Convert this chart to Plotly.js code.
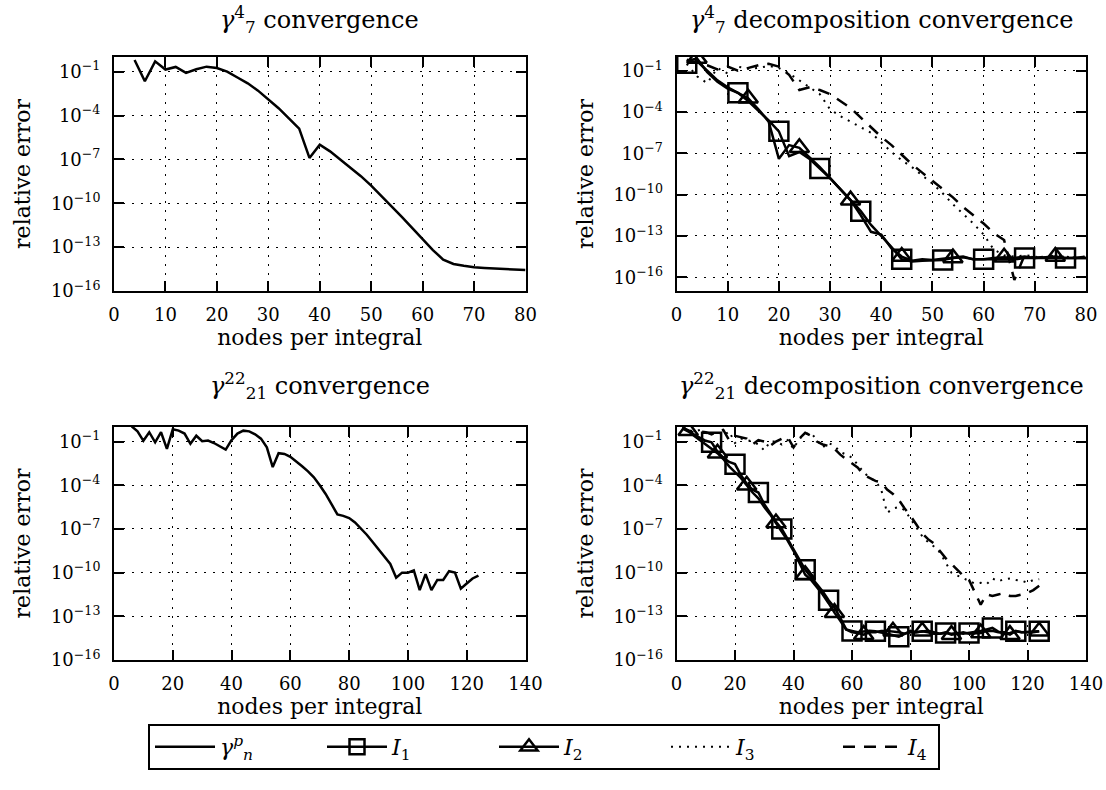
<!DOCTYPE html>
<html>
<head>
<meta charset="utf-8">
<script src="https://cdn.plot.ly/plotly-3.0.1.min.js"></script>
<style>html,body{margin:0;padding:0;background:#fff;}#chart{width:1106px;height:790px;}</style>
</head>
<body>
<div id="chart"></div>
<script>
// ---------------- data (log10 of relative error) ----------------
// top-left: gamma_7^4 convergence
const xTL = [4,6,8,10,12,14,16,18,20,22,24,26,28,30,32,34,36,38,40,42,44,46,48,50,52,54,56,58,60,62,64,66,68,70,72,74,76,78,80];
const gammaTL = [-0.2,-1.66,-0.3,-0.86,-0.68,-1.09,-0.84,-0.66,-0.75,-1.0,-1.4,-1.8,-2.3,-2.9,-3.5,-4.2,-4.9,-6.9,-6.0,-6.45,-7.0,-7.55,-8.15,-8.8,-9.5,-10.2,-10.95,-11.7,-12.45,-13.2,-13.85,-14.15,-14.28,-14.38,-14.42,-14.45,-14.47,-14.52,-14.57];

// top-right: gamma_7^4 decomposition convergence
const xTR = [2,4,6,8,10,12,14,16,18,20,22,24,26,28,30,32,34,36,38,40,42,44,46,48,50,52,54,56,58,60,62,64,66,68,70,72,74,76,78,80];
const I1_TR = [-0.45,-0.3,-1.0,-1.7,-2.2,-2.6,-3.2,-3.9,-4.6,-5.4,-7.2,-6.9,-7.4,-8.1,-8.8,-9.6,-10.4,-11.2,-12.2,-13.0,-13.8,-14.7,-14.85,-14.8,-14.75,-14.75,-14.6,-14.55,-14.7,-14.7,-14.65,-14.7,-14.7,-14.6,-14.6,-14.55,-14.6,-14.6,-14.6,-14.6];
const I2_TR = [-0.3,-0.1,-1.1,-1.8,-2.3,-2.6,-3.0,-3.8,-4.7,-7.4,-6.4,-6.6,-7.3,-8.0,-8.8,-9.6,-10.4,-11.5,-12.7,-12.9,-13.9,-14.5,-14.8,-14.7,-14.75,-14.65,-14.6,-14.5,-14.7,-14.7,-14.6,-14.55,-14.6,-14.5,-14.6,-14.55,-14.5,-14.6,-14.6,-14.6];
const I3_TR = [-0.5,-1.4,-1.9,-0.8,-1.2,-0.7,-0.85,-0.8,-0.65,-0.8,-1.2,-1.7,-2.2,-2.7,-3.8,-4.3,-4.7,-5.1,-5.5,-6.2,-6.9,-7.5,-8.0,-8.6,-9.2,-9.9,-10.7,-11.4,-12.1,-12.9,-14.0,-14.4,-14.5,-14.4,-14.5,-14.6,-14.4,-14.5,-14.6,-14.5];
const I4_TR = [-0.2,-0.4,-0.6,-0.9,-0.7,-1.0,-0.8,-0.6,-0.5,-0.7,-1.3,-2.4,-2.2,-2.4,-2.7,-3.2,-3.7,-4.4,-5.1,-5.8,-6.4,-7.1,-7.8,-8.4,-9.0,-9.6,-10.2,-10.9,-11.5,-12.1,-12.8,-13.3,-16.2,-14.4,-14.6,-14.5,-14.6,-14.5,-14.6,-14.5];
const sqTR  = [2,12,20,28,36,44,52,60,68,76];
const triTR = [4,14,24,34,44,54,64,74];

// bottom-left: gamma_21^22 convergence
const xBL = [6,8,10,12,14,16,18,20,22,24,26,28,30,32,34,36,38,40,42,44,46,48,50,52,54,56,58,60,62,64,66,68,70,72,74,76,78,80,82,84,86,88,90,92,94,96,98,100,102,104,106,108,110,112,114,116,118,120,122,124];
const gammaBL = [0.05,-0.3,-0.95,-0.36,-1.05,-0.36,-1.5,-0.15,-0.25,-0.45,-1.15,-0.6,-0.98,-0.93,-1.1,-1.35,-1.55,-0.9,-0.45,-0.25,-0.3,-0.5,-0.8,-1.4,-2.75,-1.8,-1.85,-2.05,-2.35,-2.7,-3.05,-3.45,-4.0,-4.6,-5.3,-6.0,-6.1,-6.25,-6.55,-6.95,-7.4,-7.9,-8.4,-8.9,-9.4,-10.35,-10.0,-10.0,-9.85,-11.2,-10.1,-11.2,-10.5,-10.5,-9.9,-10.0,-11.1,-10.75,-10.4,-10.2];

// bottom-right: gamma_21^22 decomposition convergence
const xBR = [2,4,6,8,10,12,14,16,18,20,22,24,26,28,30,32,34,36,38,40,42,44,46,48,50,52,54,56,58,60,62,64,66,68,70,72,74,76,78,80,82,84,86,88,90,92,94,96,98,100,102,104,106,108,110,112,114,116,118,120,122,124];
const I1_BR = [-0.1,-0.3,-0.5,-0.7,-0.95,-1.05,-1.7,-2.1,-2.4,-2.55,-3.3,-3.9,-4.3,-4.5,-5.3,-5.9,-6.5,-7.0,-7.7,-8.4,-9.2,-9.8,-10.3,-10.8,-11.3,-11.9,-12.4,-13.1,-13.9,-14.0,-14.1,-14.05,-14.0,-14.03,-14.1,-14.2,-14.3,-14.4,-14.2,-14.1,-14.1,-14.03,-14.1,-14.2,-14.2,-14.15,-14.2,-14.15,-14.2,-14.15,-14.1,-14.0,-13.9,-13.8,-14.05,-14.2,-14.15,-14.03,-14.1,-14.1,-14.1,-14.03];
const I2_BR = [-0.05,-0.25,-0.6,-0.9,-1.2,-1.5,-1.8,-2.2,-2.7,-3.1,-3.5,-4.0,-4.5,-4.9,-5.5,-6.0,-6.6,-7.2,-7.8,-8.5,-9.3,-10.15,-10.5,-11.0,-11.5,-12.1,-12.75,-13.3,-13.9,-14.1,-14.15,-14.26,-14.1,-14.1,-14.0,-14.0,-14.03,-14.1,-14.2,-14.0,-14.1,-14.03,-14.0,-14.1,-14.2,-14.1,-14.26,-14.2,-14.1,-14.2,-14.2,-14.15,-14.0,-14.0,-14.1,-14.1,-14.26,-14.0,-14.1,-14.1,-14.05,-14.03];
const I3_BR = [-0.1,-0.2,-0.3,-0.2,-0.4,-0.5,-0.3,-0.6,-0.3,-1.1,-0.8,-0.9,-1.0,-1.2,-1.6,-1.0,-1.0,-1.2,-0.9,-1.5,-0.8,-0.5,-0.4,-0.9,-1.4,-1.1,-1.3,-1.7,-1.9,-2.1,-2.6,-3.1,-3.5,-3.7,-4.3,-5.9,-5.6,-5.5,-5.7,-6.3,-6.9,-7.5,-7.9,-8.2,-8.6,-9.3,-10.0,-10.2,-10.4,-10.6,-10.75,-10.7,-10.8,-10.4,-10.6,-10.45,-10.4,-10.5,-10.55,-10.7,-10.5,-10.45];
const I4_BR = [-0.05,-0.2,-0.4,-0.3,-0.35,-0.5,-0.3,-0.2,-0.9,-0.6,-0.7,-0.8,-1.2,-0.9,-1.0,-1.3,-1.0,-0.8,-0.7,-1.4,-0.8,-0.4,-0.6,-1.0,-1.2,-1.3,-1.5,-1.9,-2.2,-2.5,-2.8,-3.3,-3.5,-3.7,-3.8,-4.3,-4.6,-5.0,-5.6,-6.1,-6.7,-7.3,-7.7,-8.0,-8.5,-9.0,-9.4,-9.8,-10.2,-10.5,-11.3,-12.2,-11.5,-11.6,-11.5,-11.4,-11.6,-11.6,-11.5,-11.4,-11.2,-10.9];
const sqBR  = [12,20,28,36,44,52,60,68,76,84,92,100,108,116,124];
const triBR = [4,14,24,34,44,54,64,74,84,94,104,114,124];

// labels
const titles = ['<i>γ</i><sup>4</sup><sub>7</sub> convergence',
                '<i>γ</i><sup>4</sup><sub>7</sub> decomposition convergence',
                '<i>γ</i><sup>22</sup><sub>21</sub> convergence',
                '<i>γ</i><sup>22</sup><sub>21</sub> decomposition convergence'];
const legendNames = ['<i>γ</i><sup><i>p</i></sup><sub><i>n</i></sub>', '<i>I</i><sub>1</sub>', '<i>I</i><sub>2</sub>', '<i>I</i><sub>3</sub>', '<i>I</i><sub>4</sub>'];
const yExp = [-16,-13,-10,-7,-4,-1];
const xLabel = 'nodes per integral';
const yLabel = 'relative error';

// ---------------- figure ----------------
const FONT = 'DejaVu Serif, serif';
const W = 1106, H = 790;
const pw = v => 10 ** v;

const styles = {
  gamma: {color: '#000', width: 2.5, dash: 'solid'},
  I1: {color: '#000', width: 2.5, dash: 'solid'},
  I2: {color: '#000', width: 2.5, dash: 'solid'},
  I3: {color: '#000', width: 2, dash: '2px,6px'},
  I4: {color: '#000', width: 2.5, dash: '12px,9px'}
};
const sqMarker = {symbol: 'square-open', size: 19, color: '#000', line: {width: 2.5, color: '#000'}};
const triMarker = {symbol: 'triangle-up-open', size: 17, color: '#000', line: {width: 2.5, color: '#000'}};

function line(x, y, st, xa, ya) {
  return {type: 'scatter', mode: 'lines', x: x, y: y.map(pw), line: st, xaxis: xa, yaxis: ya,
          showlegend: false, hoverinfo: 'skip'};
}
function marks(xs, xAll, yAll, mk, xa, ya) {
  const ys = xs.map(v => pw(yAll[xAll.indexOf(v)]));
  return {type: 'scatter', mode: 'markers', x: xs, y: ys, marker: mk, xaxis: xa, yaxis: ya,
          showlegend: false, hoverinfo: 'skip'};
}

const traces = [
  line(xTL, gammaTL, styles.gamma, 'x', 'y'),
  line(xTR, I3_TR, styles.I3, 'x2', 'y2'),
  line(xTR, I4_TR, styles.I4, 'x2', 'y2'),
  line(xTR, I1_TR, styles.I1, 'x2', 'y2'),
  line(xTR, I2_TR, styles.I2, 'x2', 'y2'),
  marks(sqTR, xTR, I1_TR, sqMarker, 'x2', 'y2'),
  marks(triTR, xTR, I2_TR, triMarker, 'x2', 'y2'),
  line(xBL, gammaBL, styles.gamma, 'x3', 'y3'),
  line(xBR, I3_BR, styles.I3, 'x4', 'y4'),
  line(xBR, I4_BR, styles.I4, 'x4', 'y4'),
  line(xBR, I1_BR, styles.I1, 'x4', 'y4'),
  line(xBR, I2_BR, styles.I2, 'x4', 'y4'),
  marks(sqBR, xBR, I1_BR, sqMarker, 'x4', 'y4'),
  marks(triBR, xBR, I2_BR, triMarker, 'x4', 'y4')
];
// legend-only entries (no data drawn)
const legSt = [
  {mode: 'lines', line: styles.gamma},
  {mode: 'lines+markers', line: styles.I1, marker: Object.assign({}, sqMarker, {size: 15})},
  {mode: 'lines+markers', line: styles.I2, marker: Object.assign({}, triMarker, {size: 15})},
  {mode: 'lines', line: styles.I3},
  {mode: 'lines', line: styles.I4, legendwidth: 25}
];
legendNames.forEach((n, i) => {
  const st = Object.assign({}, legSt[i]);
  traces.push(Object.assign({type: 'scatter', x: [null], y: [null], name: n, xaxis: 'x', yaxis: 'y',
                             showlegend: true, hoverinfo: 'skip'}, st));
});

const dxL = [114/W, 525.5/W], dxR = [676.5/W, 1086/W];
const dyT = [1 - 291/H, 1 - 57/H], dyB = [1 - 660/H, 1 - 427/H];

function xax(dom, max, dt, anchor) {
  return {
    domain: dom, range: [0, max], dtick: dt, tick0: 0, anchor: anchor,
    showline: true, mirror: 'ticks', linecolor: '#000', linewidth: 2,
    ticks: 'inside', ticklen: 10, tickwidth: 2, tickcolor: '#000',
    showgrid: true, gridcolor: '#000', gridwidth: 1, griddash: '2px,7px',
    zeroline: false, ticklabelstandoff: 6,
    tickfont: {family: FONT, size: 18, color: '#000'},
    title: {text: xLabel, font: {family: FONT, size: 22, color: '#000'}, standoff: 6}
  };
}
function yax(dom, lo, anchor) {
  return {
    domain: dom, type: 'log', range: [lo, 0], anchor: anchor,
    tickvals: yExp.map(pw), ticktext: yExp.map(e => '10<sup>−' + (-e) + '</sup>'),
    showline: true, mirror: 'ticks', linecolor: '#000', linewidth: 2,
    ticks: 'inside', ticklen: 10, tickwidth: 2, tickcolor: '#000',
    showgrid: true, gridcolor: '#000', gridwidth: 1, griddash: '2px,7px',
    zeroline: false, ticklabelstandoff: 8,
    tickfont: {family: FONT, size: 18, color: '#000'},
    title: {text: yLabel, font: {family: FONT, size: 22, color: '#000'}, standoff: 14}
  };
}

const titlePos = [[(dxL[0]+dxL[1])/2, 1 - 19/H], [(dxR[0]+dxR[1])/2, 1 - 19/H],
                  [(dxL[0]+dxL[1])/2, 1 - 386/H], [(dxR[0]+dxR[1])/2, 1 - 386/H]];
const annotations = titles.map((t, i) => ({
  text: t, xref: 'paper', yref: 'paper', x: titlePos[i][0], y: titlePos[i][1],
  xanchor: 'center', yanchor: 'middle', showarrow: false,
  font: {family: FONT, size: 24, color: '#000'}
}));

const layout = {
  width: W, height: H, margin: {l: 0, r: 0, t: 0, b: 0},
  paper_bgcolor: '#fff', plot_bgcolor: '#fff',
  font: {family: FONT, color: '#000'},
  xaxis: xax(dxL, 80, 10, 'y'), yaxis: yax(dyT, -16, 'x'),
  xaxis2: xax(dxR, 80, 10, 'y2'), yaxis2: yax(dyT, -17, 'x2'),
  xaxis3: xax(dxL, 140, 20, 'y3'), yaxis3: yax(dyB, -16, 'x3'),
  xaxis4: xax(dxR, 140, 20, 'y4'), yaxis4: yax(dyB, -16, 'x4'),
  annotations: annotations,
  showlegend: true,
  legend: {
    orientation: 'h', x: 148/W, y: 1 - 724/H, xanchor: 'left', yanchor: 'top',
    bordercolor: '#000', borderwidth: 2, bgcolor: 'rgba(255,255,255,0)',
    font: {family: FONT, size: 22, color: '#000'},
    itemwidth: 60, entrywidth: 97, itemsizing: 'trace', traceorder: 'normal'
  }
};

Plotly.newPlot('chart', traces, layout, {staticPlot: true, displayModeBar: false});
</script>
</body>
</html>
